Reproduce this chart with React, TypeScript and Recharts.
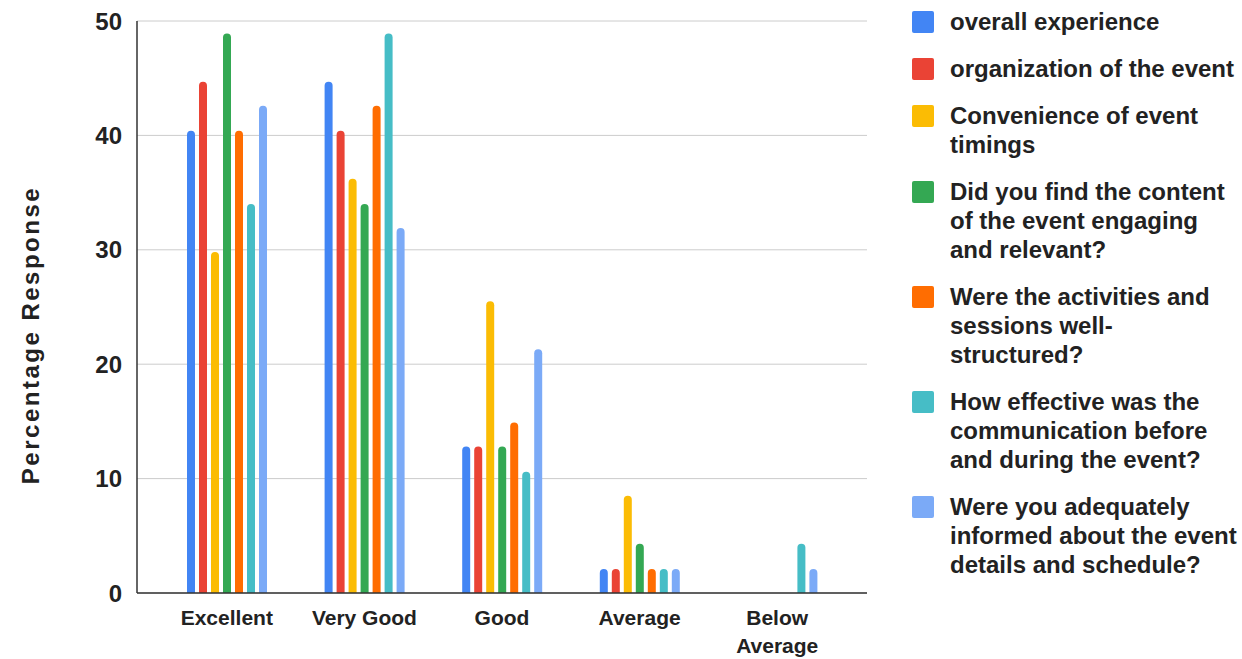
import { BarChart, Bar, XAxis, YAxis, CartesianGrid } from 'recharts'

// ratings on the x axis
const categories = ['Excellent', 'Very Good', 'Good', 'Average', 'Below Average']

// percentage of responses per question
const overallExperience = [40.4, 44.7, 12.8, 2.1, 0]
const organization = [44.7, 40.4, 12.8, 2.1, 0]
const convenience = [29.8, 36.2, 25.5, 8.5, 0]
const contentEngaging = [48.9, 34.0, 12.8, 4.3, 0]
const activities = [40.4, 42.6, 14.9, 2.1, 0]
const communication = [34.0, 48.9, 10.6, 2.1, 4.3]
const informed = [42.6, 31.9, 21.3, 2.1, 2.1]

const yTicks = [0, 10, 20, 30, 40, 50]

const series = [
  { key: 'overall', name: 'overall experience', color: '#4285F4', values: overallExperience },
  { key: 'organization', name: 'organization of the event', color: '#EA4335', values: organization },
  { key: 'convenience', name: 'Convenience of event timings', color: '#FBBC04', values: convenience },
  { key: 'content', name: 'Did you find the content of the event engaging and relevant?', color: '#34A853', values: contentEngaging },
  { key: 'activities', name: 'Were the activities and sessions well-structured?', color: '#FF6D01', values: activities },
  { key: 'communication', name: 'How effective was the communication before and during the event?', color: '#46BDC6', values: communication },
  { key: 'informed', name: 'Were you adequately informed about the event details and schedule?', color: '#7BAAF7', values: informed },
]

const data = categories.map((category, i) => {
  const row: Record<string, string | number> = { category }
  series.forEach((s) => {
    row[s.key] = s.values[i]
  })
  return row
})

const FONT = '"Liberation Sans", Arial, sans-serif'

// long labels (more than ~10 chars) go one word per line, like "Below / Average"
function CategoryTick(props: any) {
  const { x, y, payload } = props
  const label: string = payload.value
  const lines = label.length > 10 ? label.split(' ') : [label]
  return (
    <text
      x={x}
      y={y}
      textAnchor="middle"
      fontFamily={FONT}
      fontWeight="bold"
      fontSize={21}
      fill="#222"
    >
      {lines.map((line, i) => (
        <tspan key={i} x={x} dy={i === 0 ? '0.71em' : 28}>
          {line}
        </tspan>
      ))}
    </text>
  )
}

function YLabel(props: any) {
  const { viewBox } = props
  const cx = viewBox.x + 30
  const cy = viewBox.y + viewBox.height / 2 + 28
  return (
    <text
      x={cx}
      y={cy}
      transform={`rotate(-90 ${cx} ${cy})`}
      textAnchor="middle"
      dominantBaseline="central"
      fontFamily={FONT}
      fontWeight="bold"
      fontSize={24}
      letterSpacing={2.5}
      fill="#222"
    >
      Percentage Response
    </text>
  )
}

export default function App() {
  return (
    <div style={{ position: 'fixed', left: 0, top: 0, width: 1242, height: 659, background: '#fff' }}>
      <BarChart
        width={1242}
        height={659}
        data={data}
        margin={{ top: 21, right: 375, bottom: 0, left: 0 }}
        barSize={8}
        barGap={4}
      >
        <CartesianGrid vertical={false} stroke="#cccccc" />
        <XAxis
          dataKey="category"
          height={66}
          padding={{ left: 21, right: 21 }}
          axisLine={{ stroke: '#333', strokeWidth: 1.5 }}
          tickLine={false}
          tickMargin={11}
          interval={0}
          tick={<CategoryTick />}
        />
        <YAxis
          width={137}
          domain={[0, 50]}
          ticks={yTicks}
          axisLine={{ stroke: '#333', strokeWidth: 1.5 }}
          tickLine={false}
          tickMargin={9}
          tick={{ fontFamily: FONT, fontWeight: 'bold', fontSize: 24, fill: '#222' }}
          label={<YLabel />}
        />
        {series.map((s) => (
          <Bar
            key={s.key}
            dataKey={s.key}
            name={s.name}
            fill={s.color}
            radius={[4, 4, 0, 0]}
            isAnimationActive={false}
          />
        ))}
      </BarChart>

      <div style={{ position: 'absolute', left: 912, top: 7, width: 330, fontFamily: FONT }}>
        {series.map((s) => (
          <div key={s.key} style={{ display: 'flex', alignItems: 'flex-start', marginBottom: 18 }}>
            <div
              style={{
                width: 22,
                height: 22,
                marginTop: 3.5,
                marginRight: 16,
                background: s.color,
                borderRadius: 2,
                flexShrink: 0,
              }}
            />
            <div
              style={{
                width: 290,
                fontSize: 24,
                lineHeight: '29px',
                fontWeight: 'bold',
                color: '#222',
              }}
            >
              {s.name}
            </div>
          </div>
        ))}
      </div>
    </div>
  )
}
